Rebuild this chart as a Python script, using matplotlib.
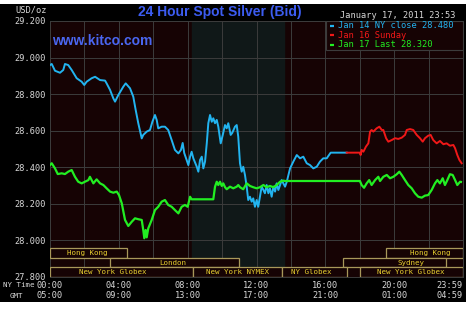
import matplotlib
matplotlib.use("Agg")
import matplotlib.pyplot as plt
from matplotlib.patches import Rectangle

# --- data (hours NY time, USD/oz) ---
jan14_hours = [0.00, 0.10, 0.29, 0.58, 0.77, 0.87, 1.06, 1.26, 1.55, 1.84, 1.99, 2.13, 2.42, 2.62,
               2.91, 3.20, 3.29, 3.49, 3.68, 3.78, 3.97, 4.26, 4.40, 4.65, 4.84, 4.98, 5.13, 5.33,
               5.42, 5.62, 5.81, 5.95, 6.10, 6.20, 6.29, 6.49, 6.68, 6.87, 7.07, 7.26, 7.46, 7.61,
               7.71, 7.80, 7.94, 8.04, 8.14, 8.23, 8.33, 8.53, 8.62, 8.72, 8.82, 8.91, 9.01, 9.11,
               9.20, 9.30, 9.40, 9.49, 9.59, 9.69, 9.78, 9.92, 10.04, 10.17, 10.27, 10.36, 10.50,
               10.59, 10.75, 10.85, 10.94, 11.04, 11.14, 11.23, 11.33, 11.43, 11.52, 11.62, 11.72,
               11.81, 11.91, 12.01, 12.10, 12.20, 12.30, 12.40, 12.49, 12.59, 12.69, 12.78, 12.88,
               12.98, 13.08, 13.17, 13.27, 13.37, 13.46, 13.56, 13.66, 13.76, 13.95, 14.14, 14.34,
               14.53, 14.72, 14.92, 15.11, 15.30, 15.50, 15.69, 15.88, 16.08, 16.31, 17.24]
jan14_price = [28.959, 28.965, 28.928, 28.917, 28.932, 28.965, 28.959, 28.932, 28.887, 28.868,
               28.850, 28.868, 28.887, 28.895, 28.877, 28.874, 28.859, 28.823, 28.777, 28.759,
               28.795, 28.841, 28.859, 28.832, 28.786, 28.713, 28.641, 28.558, 28.577, 28.595,
               28.604, 28.649, 28.686, 28.659, 28.613, 28.622, 28.622, 28.604, 28.549, 28.495,
               28.476, 28.495, 28.533, 28.478, 28.440, 28.412, 28.458, 28.485, 28.449, 28.403,
               28.376, 28.440, 28.458, 28.394, 28.431, 28.531, 28.641, 28.686, 28.649, 28.668,
               28.641, 28.659, 28.622, 28.531, 28.577, 28.631, 28.613, 28.641, 28.577, 28.588,
               28.622, 28.631, 28.567, 28.422, 28.376, 28.403, 28.358, 28.294, 28.221, 28.239,
               28.212, 28.230, 28.184, 28.221, 28.184, 28.239, 28.294, 28.276, 28.258, 28.303,
               28.258, 28.285, 28.239, 28.294, 28.267, 28.312, 28.276, 28.303, 28.330, 28.312,
               28.294, 28.321, 28.394, 28.431, 28.467, 28.449, 28.458, 28.422, 28.412, 28.394,
               28.403, 28.431, 28.449, 28.449, 28.480, 28.480]

jan16_hours = [17.24, 18.01, 18.05, 18.11, 18.21, 18.36, 18.50, 18.60, 18.69, 18.79, 18.98, 19.14,
               19.28, 19.37, 19.53, 19.66, 19.86, 20.05, 20.24, 20.44, 20.63, 20.73, 20.92, 21.11,
               21.31, 21.50, 21.66, 21.79, 21.98, 22.12, 22.27, 22.47, 22.66, 22.86, 23.05, 23.24,
               23.44, 23.54, 23.67, 23.79, 23.92]
jan16_price = [28.480, 28.480, 28.467, 28.495, 28.485, 28.513, 28.531, 28.595, 28.604, 28.595,
               28.613, 28.622, 28.604, 28.604, 28.559, 28.540, 28.549, 28.559, 28.555, 28.562,
               28.577, 28.604, 28.609, 28.604, 28.577, 28.559, 28.540, 28.559, 28.573, 28.577,
               28.549, 28.531, 28.544, 28.526, 28.531, 28.518, 28.522, 28.504, 28.467, 28.440,
               28.422]

jan17_hours = [0.00, 0.10, 0.29, 0.45, 0.68, 0.87, 1.06, 1.26, 1.45, 1.64, 1.84, 2.03, 2.23, 2.32,
               2.52, 2.71, 2.91, 3.10, 3.29, 3.49, 3.68, 3.88, 4.01, 4.17, 4.36, 4.55, 4.75, 4.94,
               5.13, 5.33, 5.42, 5.48, 5.56, 5.62, 5.71, 5.91, 6.10, 6.29, 6.49, 6.68, 6.87, 7.07,
               7.26, 7.46, 7.65, 7.84, 8.00, 8.14, 8.23, 9.49, 9.59, 9.69, 9.78, 9.88, 9.98, 10.07,
               10.17, 10.27, 10.46, 10.65, 10.85, 10.94, 11.04, 11.23, 11.43, 11.62, 11.81, 12.01,
               12.20, 12.40, 12.59, 12.78, 12.98, 13.17, 13.37, 13.56, 13.66, 18.01, 18.11, 18.25,
               18.40, 18.55, 18.69, 18.89, 19.08, 19.18, 19.37, 19.57, 19.76, 19.95, 20.15, 20.30,
               20.44, 20.63, 20.82, 21.02, 21.21, 21.40, 21.60, 21.79, 21.98, 22.18, 22.37, 22.51,
               22.66, 22.82, 22.95, 23.09, 23.24, 23.40, 23.54, 23.67, 23.83, 23.88]
jan17_price = [28.412, 28.422, 28.394, 28.363, 28.367, 28.363, 28.376, 28.385, 28.348, 28.321,
               28.312, 28.321, 28.330, 28.348, 28.312, 28.334, 28.312, 28.303, 28.285, 28.267,
               28.261, 28.267, 28.248, 28.203, 28.112, 28.079, 28.102, 28.121, 28.116, 28.112,
               28.057, 28.012, 28.057, 28.017, 28.066, 28.112, 28.166, 28.184, 28.212, 28.221,
               28.194, 28.184, 28.166, 28.148, 28.184, 28.194, 28.184, 28.239, 28.225, 28.225,
               28.294, 28.321, 28.303, 28.321, 28.298, 28.312, 28.291, 28.280, 28.294, 28.285,
               28.294, 28.303, 28.291, 28.280, 28.312, 28.298, 28.291, 28.285, 28.291, 28.303,
               28.291, 28.298, 28.291, 28.303, 28.321, 28.327, 28.325, 28.325, 28.303, 28.288,
               28.312, 28.330, 28.303, 28.330, 28.348, 28.325, 28.348, 28.358, 28.340, 28.348,
               28.362, 28.376, 28.358, 28.330, 28.303, 28.285, 28.258, 28.239, 28.234, 28.245,
               28.248, 28.276, 28.312, 28.330, 28.312, 28.340, 28.303, 28.330, 28.362, 28.358,
               28.330, 28.303, 28.321, 28.320]

legend_labels = ["Jan 14 NY close 28.480", "Jan 16 Sunday", "Jan 17 Last 28.320"]

# market sessions: row (0 = bottom), start, end, label, label position
session_row = [2, 2, 1, 1, 0, 0, 0, 0]
session_start = [0.0, 19.5, 3.5, 17.0, 0.0, 8.33, 13.5, 18.0]
session_end = [4.5, 24.0, 11.0, 23.0, 8.33, 13.5, 17.25, 24.0]
session_names = ["Hong Kong", "Hong Kong", "London", "Sydney", "New York Globex",
                 "New York NYMEX", "NY Globex", "New York Globex"]
session_label_x = [2.15, 22.1, 7.15, 20.98, 3.66, 10.92, 15.17, 20.98]

ny_ticks = [0, 4, 8, 12, 16, 20, 24]
ny_labels = ["00:00", "04:00", "08:00", "12:00", "16:00", "20:00", "23:59"]
gmt_labels = ["05:00", "09:00", "13:00", "17:00", "21:00", "01:00", "04:59"]
price_ticks = [27.8, 28.0, 28.2, 28.4, 28.6, 28.8, 29.0, 29.2]

BG = "#160304"
SHADE = "#101818"
GRID = "#3c3c3c"
TXT = "#d8d8d8"
MONO = "DejaVu Sans Mono"
COLORS = ["#22b4f0", "#f01818", "#22ee22"]

fig = plt.figure(figsize=(4.74, 3.13), dpi=100, facecolor="white")
fig.patches.append(Rectangle((0, 11 / 313), 466 / 474, 298 / 313, transform=fig.transFigure,
                             facecolor="black", edgecolor="none", zorder=-10))
ax = fig.add_axes([50 / 474, 36 / 313, 413 / 474, 256 / 313])
ax.set_zorder(1)
ax.set_facecolor(BG)
ax.set_xlim(0, 24)
ax.set_ylim(27.8, 29.2)

# NYMEX floor hours shading
ax.axvspan(8.25, 13.6, color=SHADE, zorder=0)

ax.set_xticks(range(0, 25, 2))
ax.set_xticklabels([f"{ny_labels[ny_ticks.index(t)]}\n{gmt_labels[ny_ticks.index(t)]}"
                    if t in ny_ticks else "" for t in range(0, 25, 2)])
ax.set_yticks(price_ticks)
ax.set_yticklabels([f"{p:.3f}" for p in price_ticks])
ax.tick_params(length=0, colors=TXT, labelsize=6.2, pad=3)
for lab in ax.get_xticklabels() + ax.get_yticklabels():
    lab.set_family(MONO)
    lab.set_linespacing(1.15)
ax.get_xticklabels()[-1].set_horizontalalignment("right")
ax.grid(True, color=GRID, linewidth=0.7, zorder=1)
ax.set_axisbelow(True)
for s in ax.spines.values():
    s.set_color(GRID)
    s.set_linewidth(0.7)

ax.plot(jan14_hours, jan14_price, color=COLORS[0], lw=1.4, zorder=4)
ax.plot(jan16_hours, jan16_price, color=COLORS[1], lw=1.4, zorder=4)
ax.plot(jan17_hours, jan17_price, color=COLORS[2], lw=1.6, zorder=5)

# session boxes
row_h = 0.052
for r, a, b, name, lx in zip(session_row, session_start, session_end, session_names, session_label_x):
    y0 = 27.801 + r * row_h
    ax.add_patch(Rectangle((a, y0), b - a, row_h, facecolor=BG, edgecolor="#a8985a",
                           linewidth=0.9, zorder=3))
    ax.text(lx, y0 + row_h / 2, name, color="#e8d030", fontsize=5.4, family=MONO,
            ha="center", va="center", zorder=3)

# legend box (top right, opaque)
ax.add_patch(Rectangle((0.668, 0.887), 0.332, 0.113, transform=ax.transAxes, facecolor=BG,
                       edgecolor=GRID, linewidth=0.8, zorder=6))
for i, (lbl, col) in enumerate(zip(legend_labels, COLORS)):
    yy = 0.982 - i * 0.037
    ax.plot([0.678, 0.688], [yy, yy], transform=ax.transAxes, color=col, lw=1.6, zorder=7,
            solid_capstyle="butt")
    ax.text(0.697, yy, lbl, transform=ax.transAxes, color=col, fontsize=6.3, family=MONO,
            ha="left", va="center", zorder=7)

fig.text(220 / 474, 1 - 12 / 313, "24 Hour Spot Silver (Bid)", color="#3c5cf0", fontsize=10,
         family="Liberation Sans", fontweight="bold", ha="center", va="center")
fig.text(52 / 474, 1 - 41 / 313, "www.kitco.com", color="#4a66f0", fontsize=10,
         family="Liberation Sans", fontweight="bold", ha="left", va="center", zorder=2)
fig.text(455 / 474, 1 - 15 / 313, "January 17, 2011 23:53", color=TXT, fontsize=6.2,
         family=MONO, ha="right", va="center")
fig.text(47 / 474, 1 - 10 / 313, "USD/oz", color=TXT, fontsize=6.2, family=MONO,
         ha="right", va="center")
fig.text(3 / 474, 1 - 285 / 313, "NY Time", color=TXT, fontsize=5.4, family=MONO,
         ha="left", va="center")
fig.text(10 / 474, 1 - 296 / 313, "GMT", color=TXT, fontsize=5.4, family=MONO,
         ha="left", va="center")

fig.savefig("out.png", dpi=100, facecolor="white")
